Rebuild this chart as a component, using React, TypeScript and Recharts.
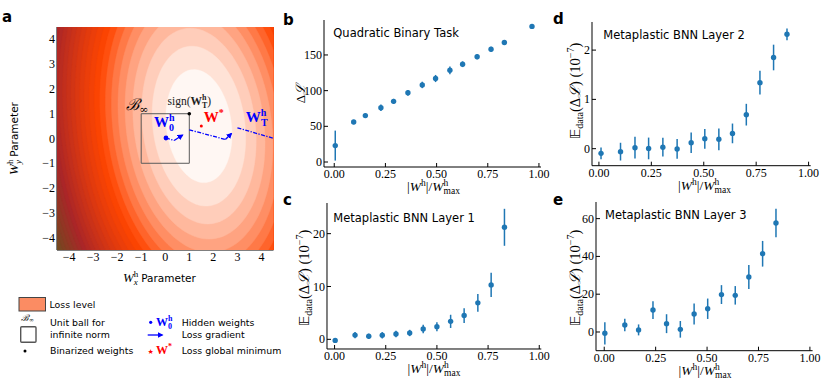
import React from 'react';
import { ScatterChart, Scatter, XAxis, YAxis, ErrorBar } from 'recharts';

// ---- panel a: loss landscape (quadratic bowl, contour levels in units of the first one) ----
const lossCenter = { x: 1.4, y: 0.5 };
const lossStep = 1.35; // x half-width of the innermost contour
const lossAspect = 1.7;
const lossTilt = 8; // degrees, top of the ellipses leans left
const lossLevels = [1, 2, 3, 4, 5, 6, 7, 8, 9, 10, 11, 12, 13, 14, 15, 16, 17, 18, 19, 20, 21, 22, 23, 24, 25, 26, 27, 28, 29, 30];
const axisTicksA = [-4, -3, -2, -1, 0, 1, 2, 3, 4];

const unitBall = [
  { x: -1, y: -1 }, { x: 1, y: -1 }, { x: 1, y: 1 }, { x: -1, y: 1 }, { x: -1, y: -1 },
];
const hiddenStart = [{ x: 0.03, y: 0.02 }];
const binarized = [{ x: 1, y: 1 }];
const globalMin = [{ x: 1.5, y: 0.5 }];
const gradPath1 = [{ x: 0.03, y: 0.02 }, { x: 0.37, y: -0.08 }];
const gradJump1 = [{ x: 0.37, y: -0.08 }, { x: 0.72, y: 0.14 }];
const gradPath2 = [{ x: 1.0, y: 0.35 }, { x: 2.5, y: -0.04 }];
const gradJump2 = [{ x: 2.5, y: -0.04 }, { x: 2.75, y: 0.2 }];
const gradPath3 = [{ x: 3.0, y: 0.43 }, { x: 4.6, y: -0.02 }];

const ballLabelAt = [{ x: -1.62, y: 1.15 }];
const signLabelAt = [{ x: 1.0, y: 1.37 }];
const w0LabelAt = [{ x: -0.47, y: 0.45 }];
const wStarLabelAt = [{ x: 1.6, y: 0.66 }];
const wTLabelAt = [{ x: 3.35, y: 0.68 }];

// ---- panel b: quadratic binary task ----
const quadX = [0.005, 0.095, 0.152, 0.228, 0.29, 0.36, 0.43, 0.495, 0.565, 0.627, 0.698, 0.766, 0.831, 0.966];
const quadY = [23, 56, 65, 76, 85, 97, 108, 117, 128.5, 137, 147.5, 158, 167.5, 190];
const quadErr = [21, 3, 3, 4.5, 3.5, 4, 4.5, 5, 5.5, 4, 3.5, 3.5, 3.5, 2];

// ---- panel c: layer 1 ----
const layer1X = [0.003, 0.1, 0.167, 0.233, 0.3, 0.367, 0.433, 0.5, 0.567, 0.633, 0.7, 0.765, 0.83];
const layer1Y = [-0.2, 0.8, 0.57, 0.76, 1.0, 1.2, 1.95, 2.4, 3.4, 4.5, 6.9, 10.3, 21.2];
const layer1Err = [0.3, 0.6, 0.5, 0.6, 0.6, 0.6, 0.8, 0.85, 1.25, 1.4, 1.7, 2.3, 3.5];

// ---- panel d: layer 2 ----
const layer2X = [0.01, 0.103, 0.172, 0.237, 0.305, 0.373, 0.44, 0.505, 0.572, 0.637, 0.703, 0.768, 0.833, 0.897];
const layer2Y = [-0.095, -0.06, 0.02, 0.005, 0.03, -0.005, 0.12, 0.2, 0.19, 0.31, 0.69, 1.34, 1.85, 2.32];
const layer2Err = [0.12, 0.18, 0.22, 0.22, 0.19, 0.2, 0.21, 0.2, 0.22, 0.2, 0.22, 0.24, 0.26, 0.12];

// ---- panel e: layer 3 ----
const layer3X = [0.003, 0.1, 0.167, 0.237, 0.303, 0.37, 0.437, 0.503, 0.57, 0.637, 0.703, 0.77, 0.835];
const layer3Y = [-0.7, 3.7, 1.1, 11.6, 4.4, 1.4, 9.5, 12.3, 19.8, 19.4, 29.1, 41.4, 57.7];
const layer3Err = [5.9, 3.3, 2.9, 4.7, 5.0, 4.4, 5.6, 5.4, 5.0, 4.9, 6.3, 6.8, 7.5];

const fracTicks = [0, 0.25, 0.5, 0.75, 1];

const BLUE = '#1f77b4';
const serif = "'Liberation Serif', 'DejaVu Serif', serif";
const sans = "'DejaVu Sans', sans-serif";

// white -> orangered -> brown -> dark olive
const cmapStops: [number, number[]][] = [
  [0, [255, 247, 243]],
  [8.5, [255, 69, 0]],
  [19, [170, 38, 40]],
  [27, [105, 80, 30]],
];
const bandColor = (j: number) => {
  if (j >= cmapStops[cmapStops.length - 1][0]) {
    const c = cmapStops[cmapStops.length - 1][1];
    return `rgb(${c[0]},${c[1]},${c[2]})`;
  }
  for (let i = 0; i < cmapStops.length - 1; i++) {
    const [a, ca] = cmapStops[i];
    const [b, cb] = cmapStops[i + 1];
    if (j >= a && j <= b) {
      const t = (j - a) / (b - a);
      const c = ca.map((v, k) => Math.round(v + (cb[k] - v) * t));
      return `rgb(${c[0]},${c[1]},${c[2]})`;
    }
  }
  return '#fff';
};

const ellipse = (level: number) => {
  const r = lossStep * Math.sqrt(level);
  const t = (lossTilt * Math.PI) / 180;
  const pts: { x: number; y: number }[] = [];
  for (let i = 0; i <= 120; i++) {
    const a = (i / 120) * 2 * Math.PI;
    const u = r * Math.cos(a);
    const v = r * lossAspect * Math.sin(a);
    pts.push({
      x: lossCenter.x + u * Math.cos(t) - v * Math.sin(t),
      y: lossCenter.y + u * Math.sin(t) + v * Math.cos(t),
    });
  }
  return pts;
};

const toPath = (pts: { x: number; y: number }[], close = false) =>
  pts.map((p, i) => `${i ? 'L' : 'M'}${p.x.toFixed(2)},${p.y.toFixed(2)}`).join('') + (close ? 'Z' : '');

const none = () => null;
const filled = (color: string) => (p: any) => (
  <path d={toPath(p.points, true)} fill={color} stroke={color} strokeWidth={0.4} />
);
const outline = (p: any) => <path d={toPath(p.points)} fill="none" stroke="#5a5a5a" strokeWidth={1} />;
const dashLine = (p: any) => (
  <path d={toPath(p.points)} fill="none" stroke="#0000ff" strokeWidth={1.3} strokeDasharray="4 1.5 1.2 1.5" />
);
const arrowLine = (p: any) => (
  <path d={toPath(p.points)} fill="none" stroke="#0000ff" strokeWidth={1.3} markerEnd="url(#arrowBlue)" />
);
const dotShape = (r: number, fill: string) => (p: any) => <circle cx={p.cx} cy={p.cy} r={r} fill={fill} />;

const BallLabel = (p: any) => (
  <text x={p.cx} y={p.cy} fontFamily="'DejaVu Serif', serif" fontSize={16} fontStyle="italic">
    ℬ<tspan fontSize={11} dy={3} fontStyle="normal">∞</tspan>
  </text>
);
const SignLabel = (p: any) => (
  <text x={p.cx} y={p.cy} textAnchor="middle" fontFamily={serif} fontSize={11.5} fill="#222">
    sign(<tspan fontWeight="bold">W</tspan>
    <tspan fontSize={8} dy={-4.5} fontWeight="bold">h</tspan>
    <tspan fontSize={8} dx={-4.5} dy={7.5} fontWeight="bold">T</tspan>
    <tspan dy={-3}>)</tspan>
  </text>
);
const W0Label = (p: any) => (
  <text x={p.cx} y={p.cy} fill="#0000ff" fontWeight="bold" fontFamily={serif} fontSize={15}>
    W<tspan fontSize={10} dy={-6}>h</tspan>
    <tspan fontSize={10} dx={-5.5} dy={10}>0</tspan>
  </text>
);
const WStarLabel = (p: any) => (
  <text x={p.cx} y={p.cy} fill="#ff0000" fontWeight="bold" fontFamily={serif} fontSize={15}>
    W<tspan fontSize={10} dy={-6}>*</tspan>
  </text>
);
const WTLabel = (p: any) => (
  <text x={p.cx} y={p.cy} fill="#0000ff" fontWeight="bold" fontFamily={serif} fontSize={15}>
    W<tspan fontSize={10} dy={-6}>h</tspan>
    <tspan fontSize={10} dx={-5.5} dy={10}>T</tspan>
  </text>
);

const frameLine = { stroke: '#000', strokeWidth: 1 };

const xTick = (fmt: (v: number) => string) => (p: any) => (
  <text x={p.x} y={p.y} dy="0.72em" textAnchor="middle" fill="#000" fontFamily={serif} fontSize={12}>
    {fmt(p.payload.value)}
  </text>
);
const yTick = (fmt: (v: number) => string) => (p: any) => (
  <text x={p.x} y={p.y} dy="0.34em" textAnchor="end" fill="#000" fontFamily={serif} fontSize={12}>
    {fmt(p.payload.value)}
  </text>
);

function axes(o: {
  xDomain: number[]; yDomain: number[]; xTicks: number[]; yTicks: number[];
  xFmt: (v: number) => string; yFmt: (v: number) => string; xH: number; yW: number;
}) {
  const blank = () => '';
  return [
    <XAxis key="xb" type="number" dataKey="x" domain={o.xDomain} allowDataOverflow ticks={o.xTicks} interval={0}
      height={o.xH} tickSize={-4} tickMargin={6.5} axisLine={frameLine} tickLine={frameLine} tick={xTick(o.xFmt)} />,
    <XAxis key="xt" xAxisId="top" orientation="top" type="number" domain={o.xDomain} allowDataOverflow ticks={o.xTicks}
      interval={0} tickFormatter={blank} height={0} tickSize={-4} axisLine={frameLine} tickLine={frameLine} />,
    <YAxis key="yl" type="number" dataKey="y" domain={o.yDomain} allowDataOverflow ticks={o.yTicks} interval={0}
      width={o.yW} tickSize={-4} tickMargin={6} axisLine={frameLine} tickLine={frameLine} tick={yTick(o.yFmt)} />,
    <YAxis key="yr" yAxisId="right" orientation="right" type="number" domain={o.yDomain} allowDataOverflow ticks={o.yTicks}
      interval={0} tickFormatter={blank} width={0} tickSize={-4} axisLine={frameLine} tickLine={frameLine} />,
  ];
}

const minus = (v: number) => (v < 0 ? `\u2212${Math.abs(v)}` : `${v}`);

function LossPanel() {
  return (
    <div style={{ position: 'absolute', left: 0, top: 0 }}>
      <ScatterChart width={290} height={280} margin={{ top: 27, right: 16.5, bottom: 0, left: 17 }}>
        {lossLevels.slice().reverse().map((level) => (
          <Scatter key={level} data={ellipse(level)} line={filled(bandColor(level - 1))} shape={none} isAnimationActive={false} />
        ))}
        <Scatter data={unitBall} line={outline} shape={none} isAnimationActive={false} />
        <Scatter data={gradPath1} line={dashLine} shape={none} isAnimationActive={false} />
        <Scatter data={gradJump1} line={arrowLine} shape={none} isAnimationActive={false} />
        <Scatter data={gradPath2} line={dashLine} shape={none} isAnimationActive={false} />
        <Scatter data={gradJump2} line={arrowLine} shape={none} isAnimationActive={false} />
        <Scatter data={gradPath3} line={dashLine} shape={none} isAnimationActive={false} />
        <Scatter data={hiddenStart} shape={dotShape(2.4, '#0000ff')} isAnimationActive={false} />
        <Scatter data={binarized} shape={dotShape(1.8, '#000')} isAnimationActive={false} />
        <Scatter data={globalMin} shape={dotShape(1.5, '#ff0000')} isAnimationActive={false} />
        <Scatter data={ballLabelAt} shape={BallLabel} isAnimationActive={false} />
        <Scatter data={signLabelAt} shape={SignLabel} isAnimationActive={false} />
        <Scatter data={w0LabelAt} shape={W0Label} isAnimationActive={false} />
        <Scatter data={wStarLabelAt} shape={WStarLabel} isAnimationActive={false} />
        <Scatter data={wTLabelAt} shape={WTLabel} isAnimationActive={false} />
        {axes({
          xDomain: [-4.5, 4.5], yDomain: [-4.5, 4.5], xTicks: axisTicksA, yTicks: axisTicksA,
          xFmt: minus, yFmt: minus, xH: 30, yW: 40,
        })}
      </ScatterChart>
    </div>
  );
}

type DataPanelProps = {
  left: number; top: number; w: number; h: number;
  xDomain: number[]; yDomain: number[]; yTicks: number[];
  xs: number[]; ys: number[]; errs: number[];
};

function DataPanel({ left, top, w, h, xDomain, yDomain, yTicks, xs, ys, errs }: DataPanelProps) {
  const ML = 40, MT = 4, MR = 16, MB = 22;
  const data = xs.map((x, i) => ({ x, y: ys[i], err: errs[i] }));
  return (
    <div style={{ position: 'absolute', left: left - ML, top: top - MT }}>
      <ScatterChart width={w + ML + MR} height={h + MT + MB} margin={{ top: MT, right: MR, bottom: 0, left: 0 }}>
        <Scatter data={data} shape={dotShape(2.7, BLUE)} isAnimationActive={false}>
          <ErrorBar dataKey="err" direction="y" width={0} stroke={BLUE} strokeWidth={1.5} />
        </Scatter>
        {axes({
          xDomain, yDomain, xTicks: fracTicks, yTicks,
          xFmt: (v) => v.toFixed(2), yFmt: (v) => `${v}`, xH: MB, yW: ML,
        })}
      </ScatterChart>
    </div>
  );
}

const XFracLabel = ({ x, y }: { x: number; y: number }) => (
  <text x={x} y={y} textAnchor="middle" fontFamily={serif} fontSize={13.5}>
    |<tspan fontStyle="italic">W</tspan>
    <tspan fontSize={9.5} dy={-5}>h</tspan>
    <tspan dy={5}>|/</tspan>
    <tspan fontStyle="italic">W</tspan>
    <tspan fontSize={9.5} dy={-5}>h</tspan>
    <tspan fontSize={9.5} dx={-4.75} dy={8}>max</tspan>
  </text>
);

const ExpLabel = ({ x, y }: { x: number; y: number }) => (
  <text transform={`translate(${x},${y}) rotate(-90)`} textAnchor="middle" fontFamily={serif} fontSize={14.5}>
    <tspan fontFamily="'DejaVu Sans'">𝔼</tspan>
    <tspan fontSize={10} dy={3}>data</tspan>
    <tspan dy={-3}>(Δ</tspan>
    <tspan fontFamily="'DejaVu Serif'" fontStyle="italic">ℒ</tspan>
    <tspan>{') (10'}</tspan>
    <tspan fontSize={10} dy={-5.5}>−7</tspan>
    <tspan dy={5.5}>)</tspan>
  </text>
);

function Overlay() {
  const letter = { fontFamily: sans, fontWeight: 'bold' as const, fontSize: 15 };
  const title = { fontFamily: sans, fontSize: 11.5 };
  const leg = { fontFamily: sans, fontSize: 9.4 };
  return (
    <svg width={830} height={387} style={{ position: 'absolute', left: 0, top: 0, pointerEvents: 'none' }}>
      <defs>
        <marker id="arrowBlue" viewBox="0 0 10 10" refX="8" refY="5" markerWidth="6" markerHeight="6"
          markerUnits="userSpaceOnUse" orient="auto">
          <path d="M0,0 L10,5 L0,10 z" fill="#0000ff" />
        </marker>
      </defs>
      <text x={2} y={21.7} {...letter}>a</text>
      <text x={283} y={24.5} {...letter}>b</text>
      <text x={283} y={205} {...letter}>c</text>
      <text x={553} y={24} {...letter}>d</text>
      <text x={553} y={205} {...letter}>e</text>

      <text x={333.3} y={36.7} {...title}>Quadratic Binary Task</text>
      <text x={333.3} y={221.7} {...title}>Metaplastic BNN Layer 1</text>
      <text x={603.3} y={39.3} {...title}>Metaplastic BNN Layer 2</text>
      <text x={605} y={219.3} {...title}>Metaplastic BNN Layer 3</text>

      {/* panel a axis labels */}
      <text x={123} y={281.5} fontFamily={serif} fontSize={13}>
        <tspan fontStyle="italic">W</tspan>
        <tspan fontSize={9} dy={-5}>h</tspan>
        <tspan fontSize={9} dx={-4.5} dy={8} fontStyle="italic">x</tspan>
        <tspan dy={-3} fontFamily={sans} fontSize={10.5}>{' Parameter'}</tspan>
      </text>
      <text transform="translate(17.5,138.5) rotate(-90)" textAnchor="middle" fontFamily={serif} fontSize={13}>
        <tspan fontStyle="italic">W</tspan>
        <tspan fontSize={9} dy={-5}>h</tspan>
        <tspan fontSize={9} dx={-4.5} dy={8} fontStyle="italic">y</tspan>
        <tspan dy={-3} fontFamily={sans} fontSize={10.5}>{' Parameter'}</tspan>
      </text>

      {/* panels b-e axis labels */}
      <XFracLabel x={433.5} y={190.5} />
      <XFracLabel x={434} y={372.5} />
      <XFracLabel x={704.5} y={189.5} />
      <XFracLabel x={705} y={374.5} />
      <text transform="translate(305,93.5) rotate(-90)" textAnchor="middle" fontFamily={serif} fontSize={13}>
        Δ<tspan fontFamily="'DejaVu Serif'" fontStyle="italic">ℒ</tspan>
      </text>
      <ExpLabel x={308.5} y={278} />
      <ExpLabel x={579.5} y={91} />
      <ExpLabel x={579.5} y={278} />

      {/* legend */}
      <rect x={19} y={297.5} width={26.5} height={13.5} fill="#fb8c63" stroke="#444" strokeWidth={1} />
      <text x={49.5} y={307.5} {...leg}>Loss level</text>
      <text x={21} y={320.5} fontFamily="'DejaVu Serif', serif" fontStyle="italic" fontSize={9}>
        ℬ<tspan fontSize={6} dy={1.5} fontStyle="normal">∞</tspan>
      </text>
      <rect x={20.7} y={326.7} width={15.3} height={15.6} rx={1} fill="#fff" stroke="#555" strokeWidth={1.4} />
      <text x={50} y={325.5} {...leg}>Unit ball for</text>
      <text x={50} y={337.5} {...leg}>infinite norm</text>
      <circle cx={25} cy={351} r={1.5} fill="#000" />
      <text x={50} y={353.5} {...leg}>Binarized weights</text>

      <circle cx={150.7} cy={322.3} r={1.6} fill="#0000ff" />
      <text x={156} y={326} fill="#0000ff" fontWeight="bold" fontFamily={serif} fontSize={12}>
        W<tspan fontSize={8} dy={-5}>h</tspan>
        <tspan fontSize={8} dx={-4.5} dy={8}>0</tspan>
      </text>
      <text x={181.7} y={325.5} {...leg}>Hidden weights</text>
      <line x1={147.7} y1={335} x2={162.3} y2={335} stroke="#0000ff" strokeWidth={1.3} markerEnd="url(#arrowBlue)" />
      <text x={181.7} y={337.5} {...leg}>Loss gradient</text>
      <text x={150.7} y={353.5} textAnchor="middle" fill="#ff0000" fontFamily={sans} fontSize={7}>★</text>
      <text x={156} y={354} fill="#ff0000" fontWeight="bold" fontFamily={serif} fontSize={12}>
        W<tspan fontSize={8} dy={-5}>*</tspan>
      </text>
      <text x={181.7} y={353.5} {...leg}>Loss global minimum</text>
    </svg>
  );
}

export default function App() {
  return (
    <div style={{ position: 'absolute', left: 0, top: 0, width: 830, height: 387, background: '#fff', overflow: 'hidden' }}>
      <LossPanel />
      <DataPanel left={324} top={20} w={217} h={147} xDomain={[-0.05, 1.01]} yDomain={[-7, 199]} yTicks={[0, 50, 100, 150]}
        xs={quadX} ys={quadY} errs={quadErr} />
      <DataPanel left={326.7} top={203.3} w={214.3} h={146} xDomain={[-0.037, 1.01]} yDomain={[-1.83, 25.8]} yTicks={[0, 10, 20]}
        xs={layer1X} ys={layer1Y} errs={layer1Err} />
      <DataPanel left={592.3} top={22} w={218.7} h={143.7} xDomain={[-0.033, 1.01]} yDomain={[-0.345, 2.57]} yTicks={[0, 1, 2]}
        xs={layer2X} ys={layer2Y} errs={layer2Err} />
      <DataPanel left={595.7} top={202.3} w={216.6} h={148.7} xDomain={[-0.04, 1.013]} yDomain={[-9.9, 68.8]} yTicks={[0, 20, 40, 60]}
        xs={layer3X} ys={layer3Y} errs={layer3Err} />
      <Overlay />
    </div>
  );
}
